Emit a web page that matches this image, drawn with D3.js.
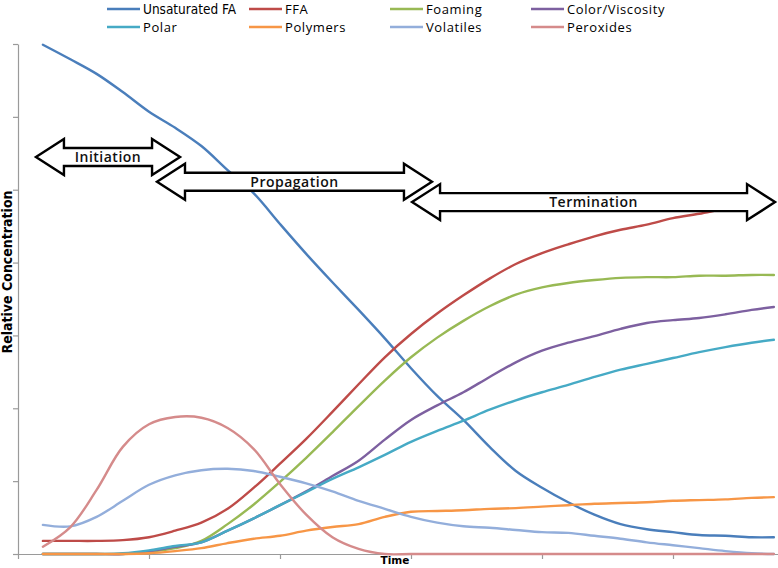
<!DOCTYPE html>
<html>
<head>
<meta charset="utf-8">
<script src="https://cdn.jsdelivr.net/npm/d3@7"></script>
<style>
  html, body { margin: 0; padding: 0; background: #fff; }
  svg { display: block; }
</style>
</head>
<body>
<svg id="chart" width="778" height="568"></svg>
<script>
// ---- data ----
const times = [0.19, 0.4, 0.6, 0.8, 1.0, 1.2, 1.4, 1.6, 1.8, 2.0, 2.2, 2.4, 2.6, 2.8, 3.0,
               3.2, 3.4, 3.6, 3.8, 4.0, 4.2, 4.4, 4.6, 4.8, 5.0, 5.2, 5.4, 5.6, 5.77];

const seriesNames = ["Unsaturated FA", "FFA", "Foaming", "Color/Viscosity",
                     "Polar", "Polymers", "Volatiles", "Peroxides"];
const seriesColors = ["#4A7EBB", "#BE4B48", "#98B954", "#7D60A0",
                      "#46AAC5", "#F79646", "#93AEDB", "#D58B8B"];

const unsaturatedFA = [6.99, 6.79, 6.59, 6.34, 6.07, 5.85, 5.60, 5.27, 4.95, 4.53, 4.12, 3.73, 3.35, 2.96, 2.55,
                       2.17, 1.84, 1.47, 1.14, 0.91, 0.71, 0.54, 0.41, 0.34, 0.30, 0.26, 0.25, 0.23, 0.23];
const ffa = [0.18, 0.18, 0.18, 0.19, 0.23, 0.32, 0.43, 0.62, 0.91, 1.24, 1.58, 1.95, 2.33, 2.70, 3.02,
             3.30, 3.55, 3.78, 3.98, 4.13, 4.25, 4.36, 4.45, 4.52, 4.61, 4.67, 4.74, 4.79, 4.83];
const foaming = [0, 0, 0, 0, 0.03, 0.08, 0.18, 0.41, 0.68, 0.99, 1.32, 1.67, 2.03, 2.38, 2.70,
                 2.97, 3.20, 3.40, 3.56, 3.66, 3.72, 3.76, 3.79, 3.80, 3.80, 3.82, 3.82, 3.83, 3.83];
const colorViscosity = [0, 0, 0, 0, 0.04, 0.10, 0.16, 0.32, 0.49, 0.67, 0.86, 1.07, 1.28, 1.57, 1.84,
                        2.04, 2.22, 2.43, 2.63, 2.79, 2.90, 2.99, 3.09, 3.17, 3.21, 3.24, 3.29, 3.35, 3.39];
const polar = [0, 0, 0, 0.01, 0.05, 0.11, 0.16, 0.32, 0.49, 0.67, 0.85, 1.03, 1.19, 1.36, 1.54,
               1.69, 1.83, 1.98, 2.11, 2.22, 2.32, 2.43, 2.53, 2.61, 2.69, 2.77, 2.84, 2.90, 2.94];
const polymers = [0, 0, 0, 0, 0.01, 0.04, 0.08, 0.15, 0.21, 0.25, 0.32, 0.37, 0.41, 0.51, 0.58,
                  0.59, 0.60, 0.62, 0.63, 0.65, 0.67, 0.69, 0.70, 0.71, 0.73, 0.74, 0.75, 0.77, 0.78];
const volatiles = [0.40, 0.38, 0.51, 0.73, 0.95, 1.08, 1.15, 1.17, 1.14, 1.06, 0.97, 0.86, 0.73, 0.62, 0.51,
                   0.43, 0.38, 0.36, 0.33, 0.30, 0.29, 0.25, 0.21, 0.16, 0.12, 0.08, 0.04, 0.01, 0];
const peroxides = [0.10, 0.37, 0.88, 1.47, 1.78, 1.88, 1.87, 1.73, 1.44, 0.96, 0.54, 0.23, 0.07, 0, 0,
                   0, 0, 0, 0, 0, 0, 0, 0, 0, 0, 0, 0, 0, 0];

const xTicks = [0, 1, 2, 3, 4, 5, 6];
const yTicks = [0, 1, 2, 3, 4, 5, 6, 7];

// phase annotations: label, start time, end time, level
const phaseLabels = ["Initiation", "Propagation", "Termination"];
const phaseStart = [0.137, 1.061, 3.008];
const phaseEnd = [1.237, 3.160, 5.779];
const phaseLevel = [5.45, 5.11, 4.83];

const xLabel = "Time";
const yLabel = "Relative Concentration";

// ---- chart ----
const allSeries = [unsaturatedFA, ffa, foaming, colorViscosity, polar, polymers, volatiles, peroxides];
const svg = d3.select("#chart");
svg.append("rect").attr("width", 778).attr("height", 568).attr("fill", "#fff");

const x = d3.scaleLinear().domain([0, 6]).range([18, 804]);
const y = d3.scaleLinear().domain([0, 7]).range([554, 44]);

// axes
const axisColor = "#9a9a9a";
const gx = svg.append("g").attr("transform", `translate(0,${y(0)})`)
  .call(d3.axisBottom(x).tickValues(xTicks).tickFormat("").tickSize(5).tickSizeOuter(0));
const gy = svg.append("g").attr("transform", `translate(${x(0)},0)`)
  .call(d3.axisLeft(y).tickValues(yTicks).tickFormat("").tickSize(5).tickSizeOuter(0));
[gx, gy].forEach(g => {
  g.selectAll("path, line").attr("stroke", axisColor).attr("stroke-width", 1.2);
});

// lines (smoothed like the original)
const line = d3.line()
  .x((d, i) => x(times[i]))
  .y(d => y(Math.max(0, d)))
  .curve(d3.curveCatmullRom.alpha(0.5));

svg.append("g").selectAll("path")
  .data(allSeries)
  .join("path")
  .attr("d", d => line(d))
  .attr("fill", "none")
  .attr("stroke", (d, i) => seriesColors[i])
  .attr("stroke-width", 2.4)
  .attr("stroke-linejoin", "round")
  .attr("stroke-linecap", "round");

// phase double arrows
const headLen = 28, headHalf = 18, shaftHalf = 9;
const arrowG = svg.append("g");
phaseLabels.forEach((lab, i) => {
  const x0 = x(phaseStart[i]), x1 = x(phaseEnd[i]), yc = y(phaseLevel[i]);
  const pts = [
    [x0, yc], [x0 + headLen, yc - headHalf], [x0 + headLen, yc - shaftHalf],
    [x1 - headLen, yc - shaftHalf], [x1 - headLen, yc - headHalf], [x1, yc],
    [x1 - headLen, yc + headHalf], [x1 - headLen, yc + shaftHalf],
    [x0 + headLen, yc + shaftHalf], [x0 + headLen, yc + headHalf]
  ];
  arrowG.append("path")
    .attr("d", "M" + pts.map(p => p.join(",")).join("L") + "Z")
    .attr("fill", "#fff")
    .attr("stroke", "#000")
    .attr("stroke-width", 2.4)
    .attr("stroke-linejoin", "miter");
  arrowG.append("text")
    .attr("x", (x0 + x1) / 2)
    .attr("y", yc)
    .attr("dy", "0.36em")
    .attr("text-anchor", "middle")
    .attr("font-family", "'Open Sans', sans-serif")
    .attr("font-size", 14)
    .attr("font-weight", 600)
    .attr("letter-spacing", 0.5)
    .attr("fill", "#111")
    .text(lab);
});

// legend
const legCols = [107, 249, 390, 531];
const legRows = [9, 27];
const leg = svg.append("g");
seriesNames.forEach((name, i) => {
  const cx = legCols[i % 4], cy = legRows[Math.floor(i / 4)];
  leg.append("line")
    .attr("x1", cx).attr("x2", cx + 33)
    .attr("y1", cy).attr("y2", cy)
    .attr("stroke", seriesColors[i]).attr("stroke-width", 2.6);
  const t = leg.append("text")
    .attr("x", cx + 36).attr("y", cy).attr("dy", "0.35em")
    .attr("fill", "#000")
    .text(name);
  if (i === 0) {
    t.attr("font-family", "'Liberation Sans Narrow', 'DejaVu Sans Condensed', sans-serif")
     .attr("font-size", 13.5);
  } else {
    t.attr("font-family", "'Open Sans', sans-serif")
     .attr("font-size", 13)
     .attr("letter-spacing", 0.6);
  }
});

// axis titles
svg.append("text")
  .attr("x", 395).attr("y", 560).attr("dy", "0.36em")
  .attr("text-anchor", "middle")
  .attr("font-family", "'DejaVu Sans', sans-serif")
  .attr("font-weight", "bold")
  .attr("font-size", 10.5)
  .text(xLabel);

svg.append("text")
  .attr("transform", "translate(7,272) rotate(-90)")
  .attr("dy", "0.36em")
  .attr("text-anchor", "middle")
  .attr("font-family", "'Liberation Sans Narrow', 'DejaVu Sans Condensed', sans-serif")
  .attr("font-weight", "bold")
  .attr("font-size", 14)
  .text(yLabel);
</script>
</body>
</html>
